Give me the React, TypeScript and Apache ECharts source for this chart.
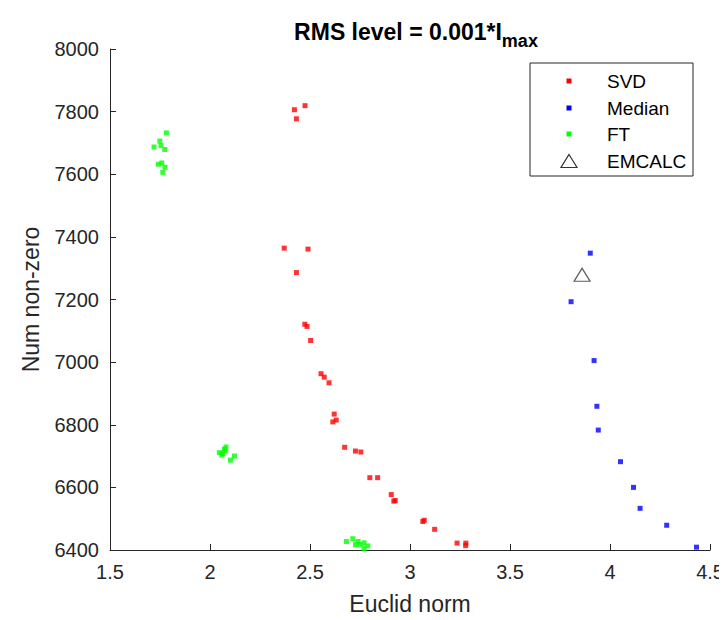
import React, { useEffect, useRef } from "react";
import * as echarts from "echarts";

// Euclid norm (x) vs number of non-zero coefficients (y) for each method
const svdPoints: [number, number][] = [
  [2.475, 7819], [2.422, 7806], [2.432, 7777],
  [2.371, 7364], [2.49, 7361], [2.432, 7286],
  [2.474, 7121], [2.485, 7114], [2.503, 7069],
  [2.555, 6963], [2.571, 6952], [2.595, 6934],
  [2.621, 6834], [2.631, 6815], [2.614, 6809],
  [2.673, 6728], [2.727, 6716], [2.754, 6713],
  [2.799, 6631], [2.838, 6631],
  [2.906, 6577], [2.919, 6556], [2.926, 6558],
  [3.064, 6491], [3.071, 6495], [3.123, 6466],
  [3.235, 6422], [3.279, 6422], [3.278, 6414],
];

const medianPoints: [number, number][] = [
  [3.901, 7348], [3.805, 7193], [3.92, 7005], [3.934, 6859], [3.941, 6783],
  [4.052, 6682], [4.117, 6600], [4.15, 6533], [4.283, 6479], [4.432, 6409],
];

const ftPoints: [number, number][] = [
  [1.782, 7732], [1.749, 7706], [1.72, 7687], [1.755, 7692], [1.774, 7679],
  [1.742, 7632], [1.759, 7636], [1.775, 7622], [1.764, 7606],
  [2.08, 6729], [2.072, 6722], [2.047, 6711], [2.064, 6708], [2.059, 6703],
  [2.122, 6700], [2.102, 6687], [2.076, 6716],
  [2.682, 6427], [2.714, 6436], [2.74, 6427], [2.727, 6417], [2.75, 6417],
  [2.77, 6423], [2.789, 6413], [2.77, 6404],
];

const emcalcPoints: [number, number][] = [[3.86, 7279]];

const seriesNames = ["SVD", "Median", "FT", "EMCALC"];
const seriesColors = ["#ff0000", "#0000ff", "#00ff00", "#333333"];

const xTicks = { min: 1.5, max: 4.5, interval: 0.5 };
const yTicks = { min: 6400, max: 8000, interval: 200 };

const FONT = "'Liberation Sans', Arial, Helvetica, sans-serif";
const INK = "#262626";

export default function App() {
  const ref = useRef<HTMLDivElement>(null);

  useEffect(() => {
    if (!ref.current) return;
    const chart = echarts.init(ref.current, null, { renderer: "svg" });

    const dotSeries = (name: string, data: [number, number][], color: string) => ({
      name,
      type: "scatter",
      data,
      symbol: "rect",
      symbolSize: 5,
      itemStyle: { color },
      silent: true,
    });

    // legend box drawn as graphic elements
    const lx = 530, ly = 63, lw = 163, lh = 113;
    const rowY = [81, 108, 134, 161];
    const markX = 569, textX = 607;
    const legendEls: any[] = [
      {
        type: "rect",
        shape: { x: lx, y: ly, width: lw, height: lh },
        style: { fill: "#fff", stroke: INK, lineWidth: 1 },
        z: 10,
      },
    ];
    seriesNames.forEach((n, i) => {
      if (i < 3) {
        legendEls.push({
          type: "rect",
          shape: { x: markX - 2.5, y: rowY[i] - 2.5, width: 5, height: 5 },
          style: { fill: seriesColors[i] },
          z: 11,
        });
      } else {
        legendEls.push({
          type: "polygon",
          shape: { points: [[markX, rowY[i] - 6.5], [markX + 8, rowY[i] + 6.5], [markX - 8, rowY[i] + 6.5]] },
          style: { fill: "none", stroke: seriesColors[i], lineWidth: 1.2 },
          z: 11,
        });
      }
      legendEls.push({
        type: "text",
        x: textX,
        y: rowY[i],
        style: { text: n, font: `19px ${FONT}`, fill: "#000", verticalAlign: "middle", textAlign: "left" },
        z: 11,
      });
    });

    chart.setOption({
      animation: false,
      backgroundColor: "#fff",
      title: {
        text: "{m|RMS level = 0.001*I}{s|max}",
        left: 411,
        top: 15,
        textAlign: "center",
        textStyle: {
          rich: {
            m: { fontFamily: FONT, fontSize: 23, fontWeight: "bold", color: "#000", lineHeight: 25, verticalAlign: "top" },
            s: { fontFamily: FONT, fontSize: 18, fontWeight: "bold", color: "#000", lineHeight: 42 },
          },
        },
      },
      grid: { left: 110, right: 14, top: 49, bottom: 66, containLabel: false },
      xAxis: {
        type: "value",
        ...xTicks,
        name: "Euclid norm",
        nameLocation: "middle",
        nameGap: 42,
        nameTextStyle: { fontFamily: FONT, fontSize: 23, color: INK },
        axisLine: { show: true, onZero: false, lineStyle: { color: INK, width: 1 } },
        axisTick: { show: true, inside: true, length: 6, lineStyle: { color: INK } },
        axisLabel: { margin: 12, fontFamily: FONT, fontSize: 20, color: INK, formatter: (v: number) => String(v) },
        splitLine: { show: false },
      },
      yAxis: {
        type: "value",
        ...yTicks,
        name: "Num non-zero",
        nameLocation: "middle",
        nameGap: 68,
        nameTextStyle: { fontFamily: FONT, fontSize: 23, color: INK },
        axisLine: { show: true, onZero: false, lineStyle: { color: INK, width: 1 } },
        axisTick: { show: true, inside: true, length: 6, lineStyle: { color: INK } },
        axisLabel: { margin: 11, fontFamily: FONT, fontSize: 20, color: INK, formatter: (v: number) => String(v) },
        splitLine: { show: false },
      },
      series: [
        dotSeries(seriesNames[0], svdPoints, seriesColors[0]),
        dotSeries(seriesNames[1], medianPoints, seriesColors[1]),
        dotSeries(seriesNames[2], ftPoints, seriesColors[2]),
        {
          name: seriesNames[3],
          type: "scatter",
          data: emcalcPoints,
          symbol: "triangle",
          symbolSize: [16, 13],
          itemStyle: { color: "rgba(0,0,0,0)", borderColor: seriesColors[3], borderWidth: 1.2 },
          silent: true,
        },
      ],
      graphic: legendEls,
    });

    return () => chart.dispose();
  }, []);

  return <div ref={ref} style={{ width: 727, height: 620, margin: -8 }} />;
}
